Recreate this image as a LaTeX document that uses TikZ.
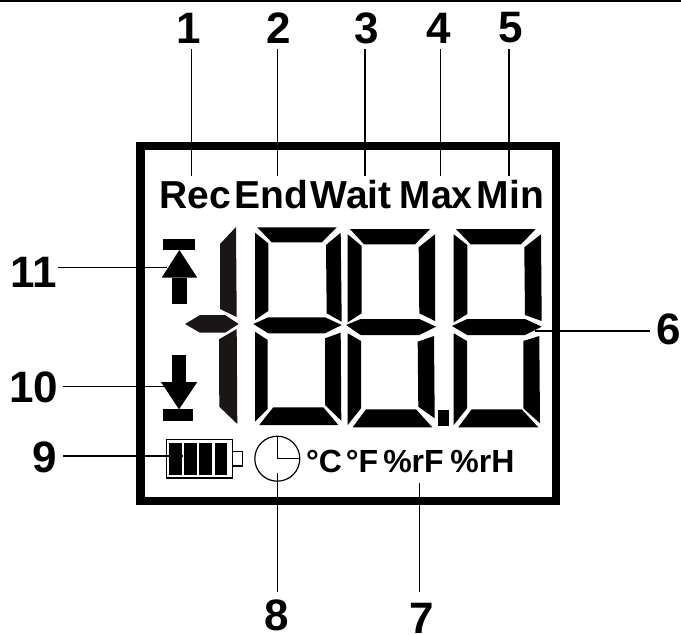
\documentclass[tikz,border=0pt]{standalone}
\usepackage{fontspec}
\setmainfont{Liberation Sans}
\definecolor{dimseg}{HTML}{1A1616}
\tikzset{
  seg/.style={fill=black,draw=none},
  dseg/.style={fill=dimseg,draw=none},
  leader/.style={draw=black,line width=1.3pt},
  num/.style={font=\fontsize{44}{44}\selectfont\bfseries,inner sep=0pt,anchor=base},
  lbl/.style={font=\fontsize{39}{39}\selectfont\bfseries,inner sep=0pt,anchor=base},
  unit/.style={font=\fontsize{32}{32}\selectfont\bfseries,inner sep=0pt,anchor=base},
}
\begin{document}
\begin{tikzpicture}[x=1pt,y=-1pt]
\useasboundingbox (0,0) rectangle (681,635);
\fill[black] (0,0) rectangle (681,2);
% frame
\draw[line width=8.5pt,miter limit=10] (140.5,146) rectangle (556,501);
% first digit
\fill[dseg] (236,227)--(236.7,317)--(220,309)--(220,244)--cycle;
\fill[dseg] (185,324)--(200,315)--(225,315)--(238.7,324)--(225,332.7)--(200,332.7)--cycle;
\fill[dseg] (236.7,329)--(237.3,424)--(219.3,406.7)--(219,339.3)--cycle;
% second digit
\fill[seg] (257.3,227.3)--(336.7,227.3)--(321.7,242.3)--(271.7,242.3)--cycle;
\fill[seg] (255,232.7)--(268.3,243.3)--(268.3,311)--(255,320)--cycle;
\fill[seg] (340.7,232.7)--(341.7,321.7)--(326.7,313.3)--(326,245)--cycle;
\fill[seg] (253.3,324)--(268.3,317.3)--(325,317.3)--(341.7,325)--(325,333.3)--(268.3,333.3)--cycle;
\fill[seg] (255,331.7)--(267.7,340)--(267.7,409)--(255,421.7)--cycle;
\fill[seg] (340.7,332.7)--(341.3,420.7)--(325,405)--(325,338.3)--cycle;
\fill[seg] (273.3,407.3)--(323.3,407.3)--(338.3,425)--(259.3,425)--cycle;
% third digit
\fill[seg] (350,229)--(430,229)--(415,244.3)--(364,244.3)--cycle;
\fill[seg] (347.7,234.3)--(361.7,246)--(361.7,313.3)--(347.7,322.3)--cycle;
\fill[seg] (435,234.3)--(435,321)--(419.3,313.3)--(418.7,247.3)--cycle;
\fill[seg] (346,325)--(360.7,319)--(419.3,319)--(436,326.7)--(419.3,335)--(360.7,335)--cycle;
\fill[seg] (347.7,333.3)--(361,341)--(361,408.3)--(347.7,425)--cycle;
\fill[seg] (434,336)--(434.7,418.3)--(418.3,406.7)--(417.7,341.7)--cycle;
\fill[seg] (366,409.3)--(416,409.3)--(432.3,427.3)--(352.7,427.3)--cycle;
\fill[seg] (437.7,410) rectangle (449.3,426);
% fourth digit
\fill[seg] (456,229)--(535.7,229)--(521,244.3)--(470.7,244.3)--cycle;
\fill[seg] (453.7,234.3)--(467.3,245)--(467.3,314)--(453.7,322.3)--cycle;
\fill[seg] (541,234.3)--(541.7,321)--(525,315)--(524.3,247.3)--cycle;
\fill[seg] (452,326)--(467.3,319)--(525,319)--(541.7,326.7)--(525,335)--(467.3,335)--cycle;
\fill[seg] (453.7,333.3)--(467,341)--(467,408.3)--(453.7,425)--cycle;
\fill[seg] (539.3,336)--(540,423.3)--(523.3,408.3)--(523.3,341)--cycle;
\fill[seg] (471.7,409.3)--(521.7,409.3)--(538.3,427.3)--(458.3,427.3)--cycle;
% arrows
\fill[seg] (163.3,239) rectangle (195.3,250);
\fill[seg] (179.3,250)--(197.3,277.7)--(161.7,277.7)--cycle;
\fill[seg] (172.3,277.7) rectangle (187.3,304.3);
\fill[seg] (171.7,354.7) rectangle (186.3,382);
\fill[seg] (161,382)--(197.3,382)--(179,409.3)--cycle;
\fill[seg] (163.3,409.3) rectangle (192.7,420.7);
% battery
\draw[line width=1.1pt] (166.2,439.8) rectangle (232.3,478);
\draw[line width=1.1pt] (232.3,451.7) rectangle (242.7,466);
\fill[seg] (169.3,442.7) rectangle (181.7,475);
\fill[seg] (184.3,442.7) rectangle (196.7,475);
\fill[seg] (199.3,442.7) rectangle (211.7,475);
\fill[seg] (214.7,442.7) rectangle (227,475);
% clock
\node[circle,draw,line width=1.2pt,minimum size=45pt,inner sep=0pt] (clock) at (277.3,458.7) {};
\coordinate (hand) at (277.3,458.7);
\draw[line width=1.2pt] (clock.north) -- (hand) -- (clock.east);
% texts
\node[lbl] (rec) at (195.3,208) {Rec};
\node[lbl] (end) at (271,208) {End};
\node[lbl] (wait) at (351.2,208) {Wait};
\node[lbl,xscale=.96] (max) at (436.3,208) {Max};
\node[lbl] (min) at (510.3,208) {Min};
\node[unit] (uc) at (324,472.3) {°C};
\node[unit] (uf) at (362,472.3) {°F};
\node[unit] (urf) at (413.5,472.3) {\%rF};
\node[unit] (urh) at (482.5,472.3) {\%rH};
\node[num] (n1) at (189,43.3) {1};
\node[num] (n2) at (279,43.3) {2};
\node[num] (n3) at (366.5,43) {3};
\node[num] (n4) at (439,43.5) {4};
\node[num] (n5) at (510.5,42.5) {5};
\node[num] (n6) at (669,344) {6};
\node[num] (n7) at (421.7,633.5) {7};
\node[num] (n8) at (276.5,630.5) {8};
\node[num] (n9) at (45,472) {9};
\node[num] (n10) at (33.5,402.7) {10};
\node[num] (n11) at (33.5,287.3) {11};
% leader ends
\coordinate (s1) at (191.7,49);
\coordinate (e1) at (191.7,176);
\coordinate (s2) at (277.7,49);
\coordinate (e2) at (277.7,176);
\coordinate (s3) at (365,49);
\coordinate (e3) at (365,176);
\coordinate (s4) at (440.7,49);
\coordinate (e4) at (440.7,176);
\coordinate (s5) at (509,49);
\coordinate (e5) at (509,176);
\coordinate (s6) at (650,331);
\coordinate (e6) at (535,331);
\coordinate (s7) at (419.3,592.3);
\coordinate (e7) at (419.3,483);
\coordinate (s8) at (277.3,592.3);
\coordinate (e8) at (277.3,473);
\coordinate (s9) at (63.3,456);
\coordinate (e9) at (183,456);
\coordinate (s10) at (63.3,386.7);
\coordinate (e10) at (167,386.7);
\coordinate (s11) at (58.3,267.7);
\coordinate (e11) at (167,267.7);
\draw[leader] (s1) -- (e1);
\draw[leader] (s2) -- (e2);
\draw[leader] (s3) -- (e3);
\draw[leader] (s4) -- (e4);
\draw[leader] (s5) -- (e5);
\draw[leader] (s6) -- (e6);
\draw[leader] (s7) -- (e7);
\draw[leader] (s8) -- (e8);
\draw[leader] (s9) -- (e9);
\draw[leader] (s10) -- (e10);
\draw[leader] (s11) -- (e11);
\end{tikzpicture}
\end{document}
